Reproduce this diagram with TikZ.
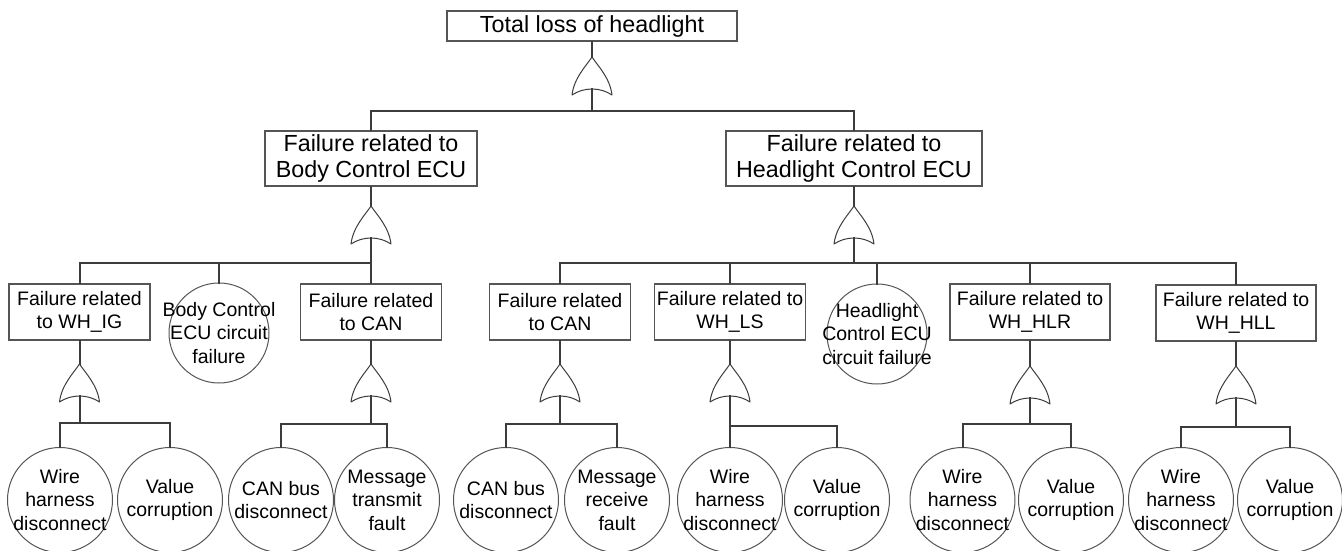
\documentclass[tikz,border=0pt]{standalone}
\usepackage{fontspec}
\setmainfont{Liberation Sans}
\definecolor{linecol}{HTML}{3C3C3C}
\definecolor{boxcol}{HTML}{555555}
\tikzset{
  x=1pt, y=-1pt,
  conn/.style={draw=linecol, line width=2pt, line cap=rect},
  gateline/.style={draw=linecol, line width=1pt, fill=white, line join=round},
  bigbox/.style={rectangle, draw=boxcol, line width=1.1pt, inner sep=0pt, align=center,
    minimum height=55pt, font=\fontsize{23.3}{26.7}\selectfont},
  smallbox/.style={rectangle, draw=boxcol, line width=1.1pt, inner sep=0pt, align=center,
    minimum height=56pt, font=\fontsize{19.5}{23}\selectfont},
  evcircle/.style={circle, draw=boxcol, line width=1pt, inner sep=0pt, minimum size=#1},
  evtext/.style={align=center, inner sep=0pt, font=\fontsize{19.5}{23.5}\selectfont},
  orgate/.pic={
    \path[gateline] (0,0) .. controls (6,9) and (18,21) .. (20,38)
      .. controls (8,30) and (-8,30) .. (-20,38)
      .. controls (-18,21) and (-6,9) .. (0,0) -- cycle;
    \coordinate (-in) at (0,0);
    \coordinate (-out) at (0,32);
  }
}
\begin{document}
\begin{tikzpicture}
\useasboundingbox (0,0) rectangle (1342,551);
\fill[white] (0,0) rectangle (1342,551);

% level 0
\node[bigbox, minimum width=290pt, minimum height=30pt] (top) at (592,26) {Total loss of headlight};
\pic (g0) at (592,57) {orgate};
\coordinate (b0) at (592,111);

% level 1
\node[bigbox, minimum width=212pt] (bc) at (371,158.5) {Failure related to\\Body Control ECU};
\node[bigbox, minimum width=256pt] (hc) at (854,158.5) {Failure related to\\Headlight Control ECU};
\pic (g1a) at (371,206) {orgate};
\pic (g1b) at (854,206) {orgate};
\coordinate (b1a) at (371,263);
\coordinate (b1b) at (854,263);

% level 2
\node[smallbox, minimum width=141pt] (ig) at (79.5,312) {Failure related\\to WH\_IG};
\node[evcircle=100pt] (bcc) at (219,333) {};
\node[evtext] at (bcc) {Body Control\\ECU circuit\\failure};
\node[smallbox, minimum width=141pt] (can1) at (371,312) {Failure related\\to CAN};
\node[smallbox, minimum width=141pt] (can2) at (560,312) {Failure related\\to CAN};
\node[smallbox, minimum width=151pt] (ls) at (730,312) {Failure related to\\WH\_LS};
\node[evcircle=100pt] (hcc) at (877,334) {};
\node[evtext] at (hcc) {Headlight\\Control ECU\\circuit failure};
\node[smallbox, minimum width=160pt] (hlr) at (1030,312) {Failure related to\\WH\_HLR};
\node[smallbox, minimum width=160pt] (hll) at (1236,313) {Failure related to\\WH\_HLL};

\pic (g2a) at (79.5,364) {orgate};
\pic (g2b) at (371,364) {orgate};
\pic (g2c) at (560,364) {orgate};
\pic (g2d) at (730,364) {orgate};
\pic (g2e) at (1030,366) {orgate};
\pic (g2f) at (1236,366) {orgate};
\coordinate (b2a) at (79.5,423);
\coordinate (b2b) at (371,424);
\coordinate (b2c) at (560,424);
\coordinate (b2d) at (730,426);
\coordinate (b2e) at (1030,424);
\coordinate (b2f) at (1236,427);

% leaves
\foreach \n/\x/\t in {
  l1/60/{Wire\\harness\\disconnect},
  l2/170/{Value\\corruption},
  l3/281/{CAN bus\\disconnect},
  l4/387/{Message\\transmit\\fault},
  l5/506/{CAN bus\\disconnect},
  l6/617/{Message\\receive\\fault},
  l7/730/{Wire\\harness\\disconnect},
  l8/837/{Value\\corruption},
  l9/962.5/{Wire\\harness\\disconnect},
  l10/1071/{Value\\corruption},
  l11/1181/{Wire\\harness\\disconnect},
  l12/1290/{Value\\corruption}}{
  \node[evcircle=105pt] (\n) at (\x,500) {};
  \node[evtext] at (\n) {\t};
}

% connectors
\draw[conn] (top.south) -- (g0-in);
\draw[conn] (g0-out) -- (b0);
\draw[conn] (b0) -| (bc.north);
\draw[conn] (b0) -| (hc.north);

\draw[conn] (bc.south) -- (g1a-in);
\draw[conn] (hc.south) -- (g1b-in);
\draw[conn] (g1a-out) -- (b1a);
\draw[conn] (g1b-out) -- (b1b);
\draw[conn] (b1a) -| (ig.north);
\draw[conn] (b1a) -| (bcc.north);
\draw[conn] (b1a) -- (can1.north);
\draw[conn] (b1b) -| (can2.north);
\draw[conn] (b1b) -| (ls.north);
\draw[conn] (b1b) -| (hcc.north);
\draw[conn] (b1b) -| (hlr.north);
\draw[conn] (b1b) -| (hll.north);

\foreach \p/\g/\b/\la/\lb in {ig/g2a/b2a/l1/l2, can1/g2b/b2b/l3/l4, can2/g2c/b2c/l5/l6,
    ls/g2d/b2d/l7/l8, hlr/g2e/b2e/l9/l10, hll/g2f/b2f/l11/l12}{
  \draw[conn] (\p.south) -- (\g-in);
  \draw[conn] (\g-out) -- (\b);
  \draw[conn] (\b) -| (\la.north);
  \draw[conn] (\b) -| (\lb.north);
}
\end{tikzpicture}
\end{document}
